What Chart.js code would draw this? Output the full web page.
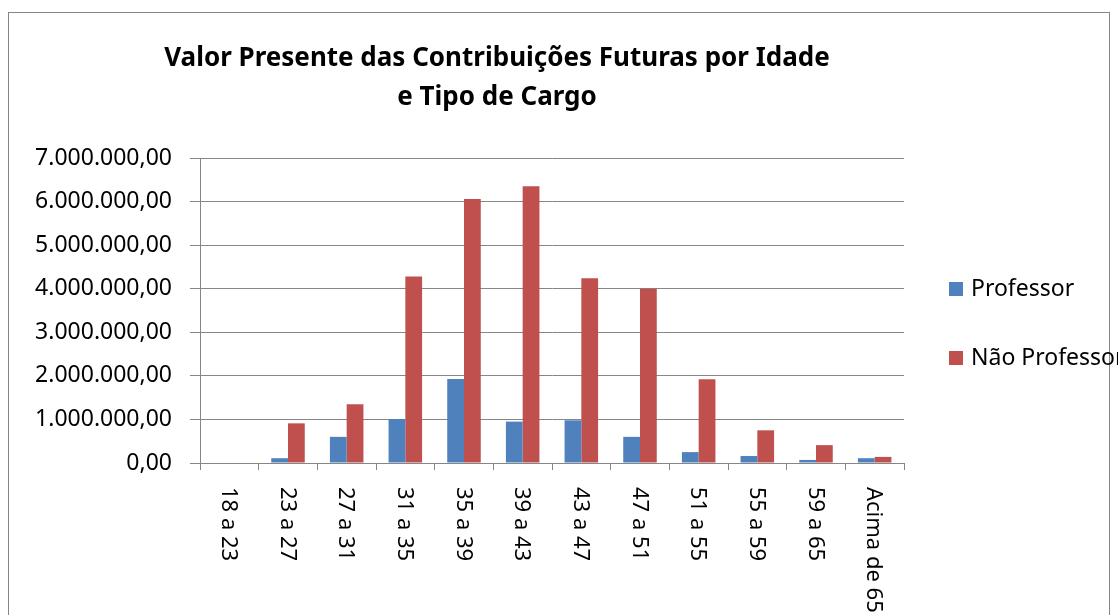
<!DOCTYPE html>
<html>
<head>
<meta charset="utf-8">
<script src="https://cdn.jsdelivr.net/npm/chart.js@4/dist/chart.umd.min.js"></script>
<style>
  body { margin: 0; background: #fff; }
  canvas { display: block; }
</style>
</head>
<body>
<canvas id="myChart" width="1118" height="615"></canvas>
<script>
const titleLines = ['Valor Presente das Contribuições Futuras por Idade', 'e Tipo de Cargo'];
const faixas = ['18 a 23', '23 a 27', '27 a 31', '31 a 35', '35 a 39', '39 a 43', '43 a 47', '47 a 51', '51 a 55', '55 a 59', '59 a 65', 'Acima de 65'];
const professor = [0, 110000, 600000, 1010000, 1930000, 950000, 980000, 600000, 250000, 160000, 70000, 110000];
const naoProfessor = [0, 910000, 1350000, 4280000, 6060000, 6350000, 4240000, 4000000, 1920000, 750000, 410000, 140000];
const seriesNames = ['Professor', 'Não Professor'];
const seriesColors = ['#4F81BD', '#C0504D'];

const FONT = '"Noto Sans", "Open Sans", sans-serif';

function fmtBR(v) {
    const parts = Math.round(v).toString().replace(/\B(?=(\d{3})+(?!\d))/g, '.');
    return parts + ',00';
}

// chart frame, title, rotated category labels, legend
const decor = {
    id: 'decor',
    afterDraw(chart) {
        const c = chart.ctx;
        c.save();
        c.strokeStyle = '#868686';
        c.lineWidth = 1;
        c.strokeRect(8.5, 12.5, 1101, 700);

        c.fillStyle = '#000';
        c.font = 'bold 26px ' + FONT;
        c.textAlign = 'center';
        c.textBaseline = 'middle';
        c.fillText(titleLines[0], 497, 59);
        c.fillText(titleLines[1], 497, 98);

        const xs = chart.scales.x;
        c.font = '22px ' + FONT;
        c.textAlign = 'left';
        faixas.forEach((lab, i) => {
            c.save();
            c.translate(xs.getPixelForValue(i), 487);
            c.rotate(Math.PI / 2);
            c.fillText(lab, 0, 1);
            c.restore();
        });

        c.font = '23px ' + FONT;
        const ys = [289, 358];
        chart.data.datasets.forEach((ds, i) => {
            c.fillStyle = ds.backgroundColor;
            c.fillRect(949, ys[i] - 7, 14, 14);
            c.fillStyle = '#000';
            c.fillText(ds.label, 971, ys[i]);
        });
        c.restore();
    }
};

const ctx = document.getElementById('myChart').getContext('2d');
const chart = new Chart(ctx, {
    type: 'bar',
    data: {
        labels: faixas,
        datasets: [
            { label: seriesNames[0], data: professor, backgroundColor: seriesColors[0] },
            { label: seriesNames[1], data: naoProfessor, backgroundColor: seriesColors[1] },
        ],
    },
    options: {
        responsive: false,
        animation: false,
        categoryPercentage: 2 / 3.5,
        barPercentage: 1,
        layout: { padding: { top: 158, right: 214, bottom: 0, left: 0 } },
        plugins: {
            legend: { display: false },
            title: { display: false },
            tooltip: { enabled: false },
        },
        scales: {
            x: {
                afterFit: s => { s.height = 152; },
                grid: { drawOnChartArea: false, color: '#868686', tickLength: 7 },
                border: { color: '#868686' },
                ticks: { display: false },
            },
            y: {
                min: 0,
                max: 7000000,
                afterFit: s => { s.width = 200; },
                grid: { color: '#868686', tickLength: 10 },
                border: { color: '#868686' },
                ticks: {
                    stepSize: 1000000,
                    padding: 18,
                    color: '#000',
                    font: { family: FONT, size: 23 },
                    callback: v => fmtBR(v),
                },
            },
        },
    },
    plugins: [decor],
});
</script>
</body>
</html>
